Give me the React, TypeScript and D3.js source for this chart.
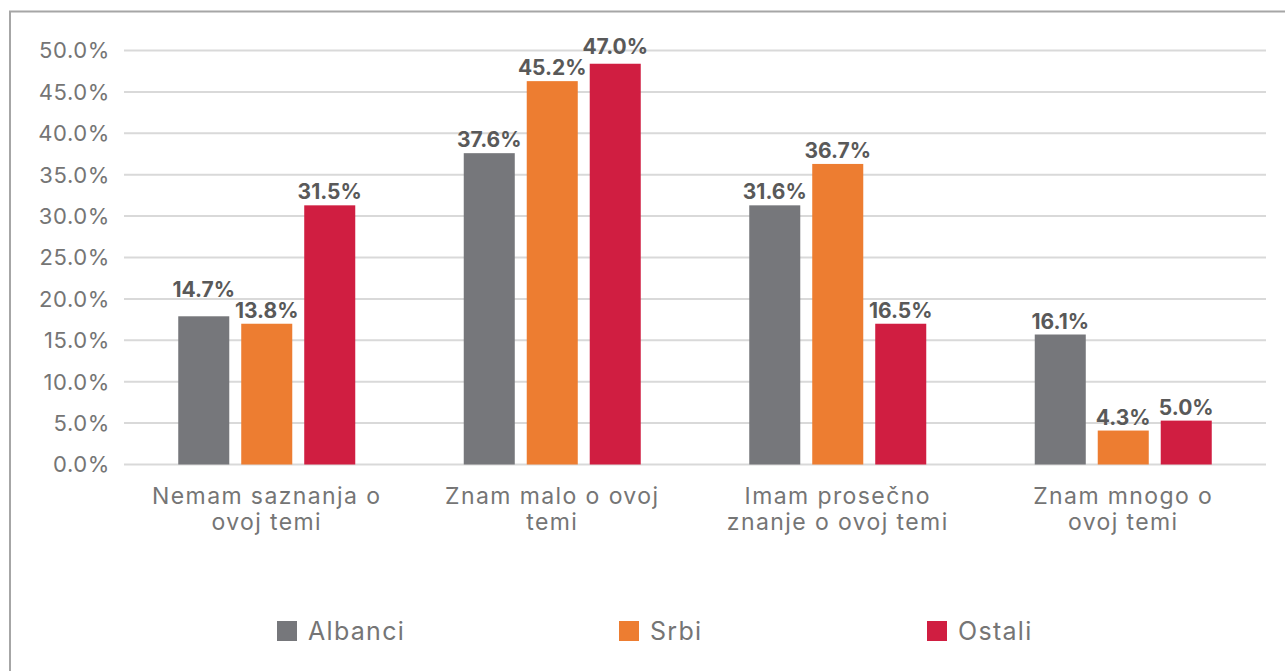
import React, { useEffect, useRef } from 'react';
import * as d3 from 'd3';

// categories (x axis, two lines each)
const categories = [
  ['Nemam saznanja o', 'ovoj temi'],
  ['Znam malo o ovoj', 'temi'],
  ['Imam prosečno', 'znanje o ovoj temi'],
  ['Znam mnogo o', 'ovoj temi'],
];

const seriesNames = ['Albanci', 'Srbi', 'Ostali'];
const seriesColors = ['#76777b', '#ed7d31', '#d01e41'];

// bar heights as drawn in the chart (%)
const albanci = [17.9, 37.6, 31.3, 15.7];
const srbi = [17.0, 46.3, 36.3, 4.1];
const ostali = [31.3, 48.4, 17.0, 5.3];

// data labels as printed
const albanciLabels = ['14.7%', '37.6%', '31.6%', '16.1%'];
const srbiLabels = ['13.8%', '45.2%', '36.7%', '4.3%'];
const ostaliLabels = ['31.5%', '47.0%', '16.5%', '5.0%'];

const yTicks = [0, 5, 10, 15, 20, 25, 30, 35, 40, 45, 50];

const FONT = 'Inter, "Open Sans", sans-serif';

const App = () => {
  const svgRef = useRef<SVGSVGElement | null>(null);
  const width = 1285;
  const height = 671;

  useEffect(() => {
    if (!svgRef.current) return;
    const svg = d3.select(svgRef.current);
    svg.selectAll('*').remove();

    const values = [albanci, srbi, ostali];
    const labels = [albanciLabels, srbiLabels, ostaliLabels];

    // outer frame
    svg.append('rect')
      .attr('x', 10).attr('y', 11.5)
      .attr('width', 1290).attr('height', 700)
      .attr('fill', '#fff')
      .attr('stroke', '#a6a6a6').attr('stroke-width', 2);

    const y = d3.scaleLinear().domain([0, 50]).range([464.5, 50.5]);
    const x0 = d3.scaleBand<number>()
      .domain(d3.range(categories.length))
      .range([124, 1266]);
    const x1 = d3.scaleBand<number>()
      .domain(d3.range(seriesNames.length))
      .range([0, 177])
      .paddingInner(0.19);

    // gridlines
    svg.append('g').selectAll('line')
      .data(yTicks)
      .enter().append('line')
      .attr('x1', 124).attr('x2', 1266)
      .attr('y1', d => y(d)).attr('y2', d => y(d))
      .attr('stroke', '#d9d9d9').attr('stroke-width', 2);

    // y labels
    svg.append('g').selectAll('text')
      .data(yTicks)
      .enter().append('text')
      .attr('x', 110).attr('y', d => y(d))
      .attr('dy', '0.36em')
      .attr('text-anchor', 'end')
      .style('font-family', FONT)
      .style('font-size', '22px')
      .style('letter-spacing', '0.6px')
      .style('fill', '#757575')
      .text(d => d3.format('.1f')(d) + '%');

    const groups = svg.append('g').selectAll('g')
      .data(categories.map((_, i) => i))
      .enter().append('g')
      .attr('transform', i => `translate(${x0(i)! + x0.bandwidth() / 2 - 88.5},0)`);

    groups.selectAll('rect')
      .data(i => seriesNames.map((_, s) => ({ s, v: values[s][i] })))
      .enter().append('rect')
      .attr('x', d => x1(d.s)!)
      .attr('width', x1.bandwidth())
      .attr('y', d => y(d.v))
      .attr('height', d => y(0) - y(d.v))
      .attr('fill', d => seriesColors[d.s]);

    groups.each(function (i) {
      const g = d3.select(this);
      const txt = g.selectAll('text.lbl')
        .data(seriesNames.map((_, s) => ({ s, v: values[s][i], t: labels[s][i] })))
        .enter().append('text')
        .attr('class', 'lbl')
        .attr('x', d => x1(d.s)! + x1.bandwidth() / 2)
        .attr('y', d => y(d.v) - 6)
        .attr('text-anchor', 'middle')
        .style('font-family', FONT)
        .style('font-size', '21px')
        .style('font-weight', 700)
        .style('fill', '#595959')
        .text(d => d.t);
      // nudge overlapping neighbours apart
      const nodes = txt.nodes() as SVGTextElement[];
      for (let k = 0; k < nodes.length - 1; k++) {
        const a = nodes[k].getBBox();
        const b = nodes[k + 1].getBBox();
        const ya = +nodes[k].getAttribute('y')!;
        const yb = +nodes[k + 1].getAttribute('y')!;
        if (a.x + a.width > b.x - 2 && Math.abs(ya - yb) < 20) {
          if (ya < yb) nodes[k].setAttribute('y', String(yb - 21));
          else nodes[k + 1].setAttribute('y', String(ya - 21));
        }
      }
    });

    // category labels
    groups.append('text')
      .attr('x', 88.5)
      .attr('text-anchor', 'middle')
      .style('font-family', FONT)
      .style('font-size', '23px')
      .style('letter-spacing', '1.4px')
      .style('fill', '#757575')
      .selectAll('tspan')
      .data(i => categories[i])
      .enter().append('tspan')
      .attr('x', 88.5)
      .attr('y', (_, k) => 504 + k * 26)
      .text(d => d);

    // legend
    const legendX = [277, 619, 927];
    const legend = svg.append('g').selectAll('g')
      .data(seriesNames)
      .enter().append('g')
      .attr('transform', (_, s) => `translate(${legendX[s]},621)`);
    legend.append('rect')
      .attr('width', 20).attr('height', 20)
      .attr('fill', (_, s) => seriesColors[s]);
    legend.append('text')
      .attr('x', 31).attr('y', 19)
      .style('font-family', FONT)
      .style('font-size', '25px')
      .style('letter-spacing', '1.3px')
      .style('fill', '#757575')
      .text(d => d);
  }, []);

  return (
    <svg
      ref={svgRef}
      width={width}
      height={height}
      style={{ position: 'absolute', left: 0, top: 0, background: '#fff' }}
    />
  );
};

export default App;
